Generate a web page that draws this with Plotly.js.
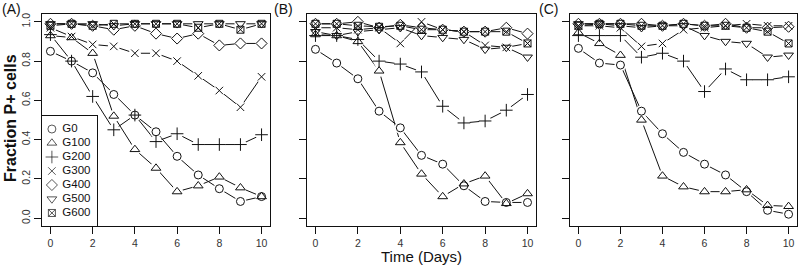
<!DOCTYPE html>
<html><head><meta charset="utf-8">
<script src="https://cdn.plot.ly/plotly-3.0.1.min.js"></script>
<style>html,body{margin:0;padding:0;background:#fff}#chart{width:800px;height:266px}</style>
</head><body><div id="chart"></div>
<script>
// ---- data ----
const days = [0,1,2,3,4,5,6,7,8,9,10];
const groups = ['G0','G100','G200','G300','G400','G500','G600'];
const xTicks = [0,2,4,6,8,10];
const yTicks = [0,0.2,0.4,0.6,0.8,1.0];
const panelLabels = ['(A)','(B)','(C)'];

// Panel A
const A_G0   = [0.85,0.80,0.74,0.63,0.525,0.44,0.315,0.22,0.15,0.085,0.11];
const A_G100 = [0.93,0.92,0.84,0.52,0.35,0.255,0.135,0.165,0.21,0.155,0.11];
const A_G200 = [0.935,0.80,0.62,0.45,0.525,0.39,0.43,0.375,0.375,0.375,0.425];
const A_G300 = [0.97,0.925,0.885,0.875,0.84,0.84,0.80,0.725,0.65,0.565,0.72];
const A_G400 = [0.99,0.99,0.98,0.96,0.98,0.94,0.915,0.94,0.88,0.89,0.89];
const A_G500 = [0.99,0.99,0.99,0.98,0.99,0.99,0.99,0.99,0.99,0.99,0.99];
const A_G600 = [0.98,0.99,0.98,0.99,0.99,0.99,0.99,0.97,0.99,0.96,0.99];
// Panel B
const B_G0   = [0.86,0.79,0.71,0.545,0.46,0.32,0.275,0.165,0.085,0.08,0.08];
const B_G100 = [0.935,0.93,0.90,0.75,0.385,0.225,0.11,0.175,0.215,0.075,0.125];
const B_G200 = [0.93,0.93,0.91,0.80,0.785,0.745,0.57,0.485,0.495,0.55,0.63];
const B_G300 = [0.97,0.97,0.96,0.97,0.89,1.0,0.96,0.95,0.88,0.87,0.89];
const B_G400 = [0.99,0.99,1.0,0.97,0.985,0.97,0.96,0.95,0.95,0.97,0.94];
const B_G500 = [0.95,0.93,0.95,0.96,0.97,0.93,0.92,0.91,0.86,0.87,0.82];
const B_G600 = [0.99,0.99,0.98,0.975,0.98,0.96,0.96,0.95,0.95,0.95,0.89];
// Panel C
const C_G0   = [0.865,0.79,0.78,0.545,0.43,0.335,0.275,0.22,0.135,0.04,0.02];
const C_G100 = [0.945,0.89,0.83,0.50,0.215,0.16,0.135,0.135,0.145,0.065,0.06];
const C_G200 = [0.93,0.93,0.93,0.82,0.84,0.80,0.645,0.76,0.705,0.705,0.72];
const C_G300 = [0.98,0.98,0.97,0.875,0.89,0.96,0.97,0.98,0.99,0.98,0.98];
const C_G400 = [0.99,0.99,0.99,0.99,0.98,0.99,0.98,0.99,0.97,0.97,0.975];
const C_G500 = [0.99,0.99,0.98,0.97,0.98,0.98,0.93,0.90,0.89,0.82,0.83];
const C_G600 = [0.98,0.99,0.99,0.98,0.98,0.99,0.98,0.98,0.97,0.95,0.89];

// ---- styles ----
const symbols = ['circle-open','triangle-up-open','cross-thin-open','x-thin-open','diamond-open','triangle-down-open','square-x-open'];
const sizes   = [8,8.5,9,7.5,8.5,8.5,7];
const FONT = 'Liberation Sans, Arial, sans-serif';
const INK = '#111';

const panels = [
  {xa:'x',  ya:'y',  series:[A_G0,A_G100,A_G200,A_G300,A_G400,A_G500,A_G600]},
  {xa:'x2', ya:'y2', series:[B_G0,B_G100,B_G200,B_G300,B_G400,B_G500,B_G600]},
  {xa:'x3', ya:'y3', series:[C_G0,C_G100,C_G200,C_G300,C_G400,C_G500,C_G600]}
];

const traces = [];
panels.forEach(p => {
  // connecting lines
  p.series.forEach((vals,i) => traces.push({
    type:'scatter', mode:'lines', x:days, y:vals, xaxis:p.xa, yaxis:p.ya,
    line:{color:INK,width:1}, showlegend:false, hoverinfo:'skip', name:groups[i]
  }));
  // gaps around points (R type="b")
  p.series.forEach((vals,i) => traces.push({
    type:'scatter', mode:'markers', x:days, y:vals, xaxis:p.xa, yaxis:p.ya,
    marker:{symbol:'circle',size:12,color:'#fff',line:{width:0}},
    showlegend:false, hoverinfo:'skip'
  }));
  // point symbols
  p.series.forEach((vals,i) => traces.push({
    type:'scatter', mode:'markers', x:days, y:vals, xaxis:p.xa, yaxis:p.ya,
    marker:{symbol:symbols[i],size:sizes[i],color:INK,line:{color:INK,width:1}},
    showlegend:false, name:groups[i]
  }));
});

// legend box (R-style) drawn on its own small axes
const legendRows = groups.map((g,i) => -i);
traces.push({
  type:'scatter', mode:'markers', xaxis:'x4', yaxis:'y4',
  x: groups.map(() => 0.18), y: legendRows,
  marker:{symbol:symbols,size:sizes,color:INK,line:{color:INK,width:1}},
  showlegend:false, hoverinfo:'skip', cliponaxis:false
});
traces.push({
  type:'scatter', mode:'text', xaxis:'x4', yaxis:'y4',
  x: groups.map(() => 0.37), y: legendRows,
  text: groups, textposition:'middle right',
  textfont:{family:FONT,size:11.5,color:INK},
  showlegend:false, hoverinfo:'skip', cliponaxis:false
});

const W=800,H=266;
const px = v => v/W, py = v => 1 - v/H;
const xBase = {
  range:[-0.4,10.4], tickvals:xTicks, ticks:'outside', ticklen:7, tickwidth:1, tickcolor:INK,
  showline:true, mirror:true, linecolor:INK, linewidth:1, showgrid:false, zeroline:false,
  tickfont:{family:FONT,size:10.5,color:'#333'}, fixedrange:true
};
const yBase = {
  range:[-0.04,1.04], tickvals:yTicks, tickformat:'.1f', tickangle:-90, ticks:'outside', ticklen:7,
  tickwidth:1, tickcolor:INK, showline:true, mirror:true, linecolor:INK, linewidth:1,
  showgrid:false, zeroline:false, tickfont:{family:FONT,size:10.5,color:'#333'},
  domain:[py(226), py(14)], fixedrange:true
};

const layout = {
  width:W, height:H, margin:{l:0,r:0,t:0,b:0}, showlegend:false,
  paper_bgcolor:'#fff', plot_bgcolor:'#fff',
  xaxis: Object.assign({}, xBase, {domain:[px(42),px(270)], anchor:'y'}),
  xaxis2:Object.assign({}, xBase, {domain:[px(307),px(536)], anchor:'y2'}),
  xaxis3:Object.assign({}, xBase, {domain:[px(570),px(797)], anchor:'y3'}),
  yaxis: Object.assign({}, yBase, {anchor:'x'}),
  yaxis2:Object.assign({}, yBase, {anchor:'x2', showticklabels:false}),
  yaxis3:Object.assign({}, yBase, {anchor:'x3', showticklabels:false}),
  xaxis4:{domain:[px(42),px(97)], range:[0,1], anchor:'y4', showline:true, mirror:true,
          linecolor:INK, linewidth:1, showticklabels:false, ticks:'', showgrid:false, zeroline:false, fixedrange:true},
  yaxis4:{domain:[py(226),py(116)], range:[-6.93,0.93], anchor:'x4', showline:true, mirror:true,
          linecolor:INK, linewidth:1, showticklabels:false, ticks:'', showgrid:false, zeroline:false, fixedrange:true},
  annotations:[
    {text:'Time (Days)', xref:'x2 domain', yref:'paper', x:0.5, y:py(256), xanchor:'center', yanchor:'middle',
     showarrow:false, font:{family:FONT,size:15,color:INK}},
    {text:'Fraction P+ cells', xref:'paper', yref:'paper', x:px(11), y:py(118), xanchor:'center', yanchor:'middle',
     textangle:-90, showarrow:false, font:{family:FONT,size:16,color:INK,weight:'bold'}},
    {text:panelLabels[0], xref:'paper', yref:'paper', x:px(0), y:py(9), xanchor:'left', yanchor:'middle', showarrow:false, font:{family:FONT,size:14,color:INK}},
    {text:panelLabels[1], xref:'paper', yref:'paper', x:px(272), y:py(9), xanchor:'left', yanchor:'middle', showarrow:false, font:{family:FONT,size:14,color:INK}},
    {text:panelLabels[2], xref:'paper', yref:'paper', x:px(537), y:py(9), xanchor:'left', yanchor:'middle', showarrow:false, font:{family:FONT,size:14,color:INK}}
  ]
};

Plotly.newPlot('chart', traces, layout, {staticPlot:true, displayModeBar:false});
</script>
</body></html>
